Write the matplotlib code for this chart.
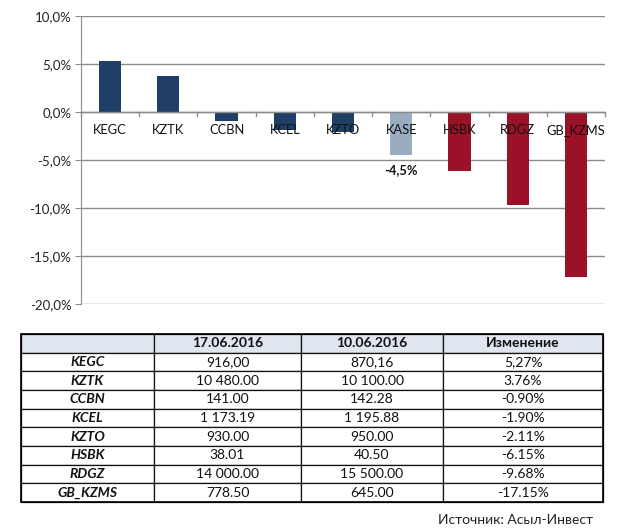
import matplotlib
matplotlib.use("Agg")
import matplotlib.pyplot as plt
from matplotlib.patches import Rectangle

plt.rcParams['font.family'] = ['Lato', 'DejaVu Sans']

tickers = ["KEGC", "KZTK", "CCBN", "KCEL", "KZTO", "KASE", "HSBK", "RDGZ", "GB_KZMS"]
changes = [5.27, 3.76, -0.90, -1.90, -2.11, -4.5, -6.15, -9.68, -17.15]
bar_colors = ["#1f3f66"] * 5 + ["#9aacc0"] + ["#9b1228"] * 3
yticks = [10, 5, 0, -5, -10, -15, -20]
ytick_labels = ["10,0%", "5,0%", "0,0%", "-5,0%", "-10,0%", "-15,0%", "-20,0%"]
kase_label = "-4,5%"

col_headers = ["", "17.06.2016", "10.06.2016", "Изменение"]
row_names = ["KEGC", "KZTK", "CCBN", "KCEL", "KZTO", "HSBK", "RDGZ", "GB_KZMS"]
price_now = ["916,00", "10 480.00", "141.00", "1 173.19", "930.00", "38.01", "14 000.00", "778.50"]
price_prev = ["870,16", "10 100.00", "142.28", "1 195.88", "950.00", "40.50", "15 500.00", "645.00"]
change_txt = ["5,27%", "3.76%", "-0.90%", "-1.90%", "-2.11%", "-6.15%", "-9.68%", "-17.15%"]
source = "Источник: Асыл-Инвест"

W, H = 620, 532
fig = plt.figure(figsize=(W / 100, H / 100), dpi=100)

# ---- bar chart ----
ax = fig.add_axes([81 / W, 1 - 304 / H, (605 - 81) / W, (304 - 16) / H])
x = list(range(len(tickers)))
ax.bar(x, changes, width=0.38, color=bar_colors, zorder=3)
ax.set_xlim(-0.5, len(tickers) - 0.5)
ax.set_ylim(-20, 10)
ax.set_yticks(yticks)
ax.set_yticklabels(ytick_labels, fontsize=9.5, color="#222222")
ax.yaxis.grid(True, color="#8c8c8c", linewidth=1, zorder=0)
ax.set_xticks([])
for s in ["top", "right", "bottom"]:
    ax.spines[s].set_visible(False)
ax.spines["left"].set_color("#8c8c8c")
ax.tick_params(axis="y", length=4, color="#8c8c8c", pad=3)
# zero axis line and category tick marks
ax.axhline(0, color="#8c8c8c", linewidth=1, zorder=4)
for b in [i - 0.5 for i in range(len(tickers) + 1)]:
    ax.plot([b, b], [0, -0.4], color="#8c8c8c", linewidth=1, zorder=4, clip_on=False)
for xi, t in zip(x, tickers):
    ax.text(xi, -1.9, t, ha="center", va="center", fontsize=9.3, color="#111111", zorder=5)
ax.text(5, -6.0, kase_label, ha="center", va="center", fontsize=9.3,
        fontweight="bold", color="#111111", zorder=5)

# ---- table ----
tx0, tx1, ty0, ty1 = 21, 603, 334, 502
tax = fig.add_axes([tx0 / W, 1 - ty1 / H, (tx1 - tx0) / W, (ty1 - ty0) / H])
tax.axis("off")
cell_text = [[r, a, b, c] for r, a, b, c in zip(row_names, price_now, price_prev, change_txt)]
colw = [133, 147, 142, 160]
tot = sum(colw)
tbl = tax.table(cellText=cell_text, colLabels=col_headers,
                colWidths=[w / tot for w in colw], cellLoc="center",
                bbox=[0, 0, 1, 1])
tbl.auto_set_font_size(False)
for (r, c), cell in tbl.get_celld().items():
    cell.set_edgecolor("#111111")
    cell.set_linewidth(0.9)
    cell.get_text().set_fontsize(10)
    cell.get_text().set_color("#111111")
    if r == 0:
        cell.set_facecolor("#dfe6ef")
        cell.get_text().set_fontweight("bold")
    elif c == 0:
        cell.get_text().set_fontweight("bold")
        cell.get_text().set_fontstyle("italic")
tax.add_patch(Rectangle((0, 0), 1, 1, transform=tax.transAxes, fill=False,
                        edgecolor="black", linewidth=1.2, clip_on=False, zorder=10))

fig.text(593 / W, 1 - 520 / H, source, ha="right", va="center", fontsize=10, color="#222222")

fig.savefig("out.png", dpi=100)
